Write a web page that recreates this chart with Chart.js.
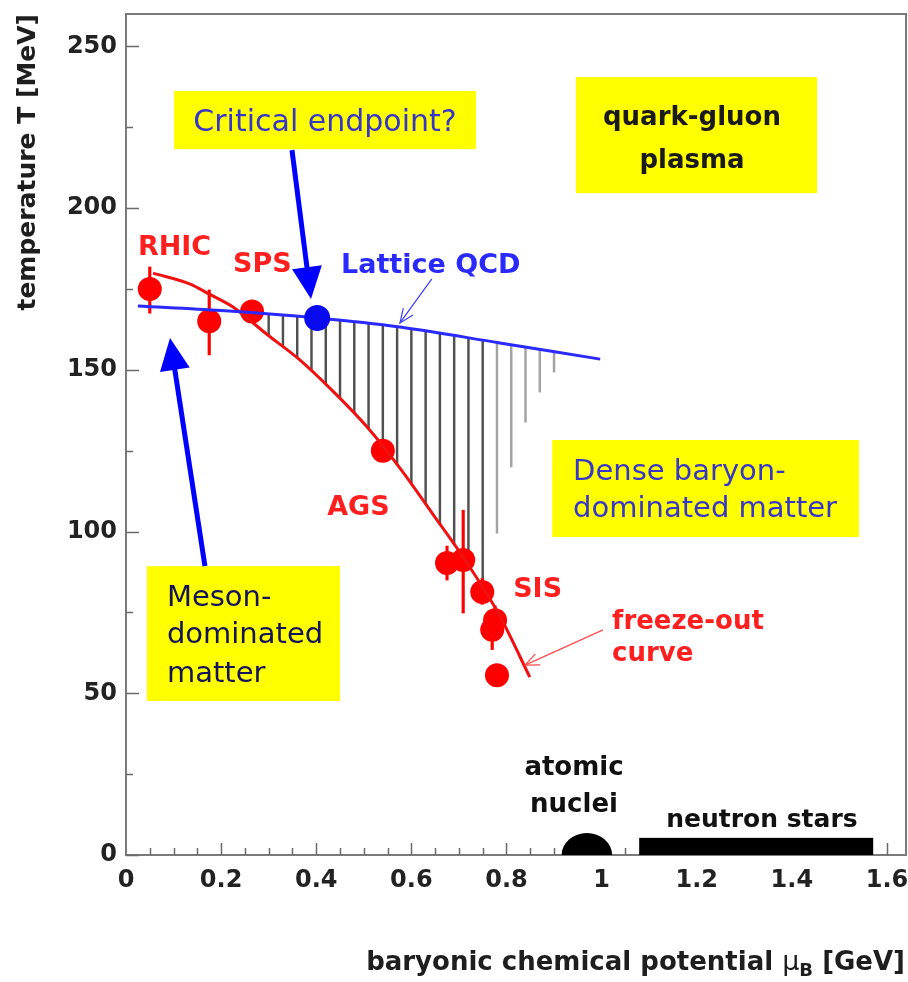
<!DOCTYPE html>
<html>
<head>
<meta charset="utf-8">
<script src="https://cdn.jsdelivr.net/npm/chart.js@4.4.1/dist/chart.umd.min.js"></script>
<style>
  html, body { margin: 0; padding: 0; background: #ffffff; }
  #wrap { width: 908px; height: 982px; }
</style>
</head>
<body>
<div id="wrap"><canvas id="phase" width="908" height="982"></canvas></div>
<script>
// ---- data: baryonic chemical potential mu_B [GeV], temperature T [MeV] ----

// chemical freeze-out points (RHIC, SPS, AGS, SIS) and their vertical error ranges
const POINT_MU   = [0.050, 0.175, 0.265, 0.540, 0.675, 0.709, 0.749, 0.776, 0.770, 0.780];
const POINT_T    = [175.0, 165.0, 168.0, 125.0, 90.3, 91.2, 81.3, 72.6, 69.6, 55.6];
const POINT_T_LO = [167.5, 154.6, null, null, 85.0, 74.8, 77.5, 68.5, 63.5, null];
const POINT_T_HI = [181.8, 174.7, null, null, 95.5, 106.6, 85.5, 77.0, 74.0, null];

// freeze-out curve
const FREEZE_MU = [0.057, 0.135, 0.175, 0.225, 0.296, 0.366, 0.435, 0.507, 0.576, 0.645, 0.717, 0.786, 0.849];
const FREEZE_T  = [179.9, 176.5, 173.4, 169.4, 161.0, 153.0, 143.4, 132.3, 119.6, 105.4, 90.3, 73.9, 55.0];

// lattice QCD transition line
const LATTICE_MU = [0.025, 0.200, 0.402, 0.576, 0.786, 0.997];
const LATTICE_T  = [169.7, 168.3, 166.0, 163.2, 158.3, 153.3];

// critical endpoint
const CRIT_MU = [0.402];
const CRIT_T  = [166.0];

// hatched band between the lattice line and the freeze-out region
const HATCH_MU     = [0.30, 0.33, 0.36, 0.39, 0.42, 0.45, 0.48, 0.51, 0.54, 0.57, 0.60,
                      0.63, 0.66, 0.69, 0.72, 0.75, 0.78, 0.81, 0.84, 0.87, 0.90];
const HATCH_TOP    = [167.2, 166.8, 166.5, 166.1, 165.7, 165.2, 164.7, 164.3, 163.8, 163.3, 162.6,
                      161.9, 161.2, 160.5, 159.8, 159.1, 158.4, 157.7, 157.0, 156.3, 155.6];
const HATCH_BOTTOM = [160.7, 157.2, 153.7, 149.7, 145.5, 141.1, 136.4, 131.7, 126.2, 120.7, 114.7,
                      108.6, 102.3, 96.0, 89.6, 80.0, 99.5, 120.0, 133.8, 143.1, 149.3];

// cold dense matter: atomic nuclei and neutron stars
const NUCLEI_MU     = 0.969;   // centre
const NUCLEI_HALF   = 0.053;   // half width in mu_B
const NUCLEI_T      = 6.8;     // height in T
const NEUTRON_MU    = [1.079, 1.571];
const NEUTRON_T     = 5.3;

// axis ticks
const X_TICKS = [0, 0.2, 0.4, 0.6, 0.8, 1.0, 1.2, 1.4, 1.6];
const Y_TICKS = [0, 50, 100, 150, 200, 250];

// ---- text annotations (anchored in data units) ----
const FONT = '"DejaVu Sans", "Verdana", sans-serif';
const RED = '#ff1f1f';
const BLUE = '#2a2aff';

const LABELS = [
  { text: 'RHIC', mu: 0.025, t: 185.5, align: 'left', color: RED, font: 'bold 27px ' + FONT },
  { text: 'SPS', mu: 0.225, t: 180.2, align: 'left', color: RED, font: 'bold 27px ' + FONT },
  { text: 'AGS', mu: 0.423, t: 105.1, align: 'left', color: RED, font: 'bold 27px ' + FONT },
  { text: 'SIS', mu: 0.814, t: 79.8, align: 'left', color: RED, font: 'bold 27px ' + FONT },
  { text: 'freeze-out', mu: 1.022, t: 69.9, align: 'left', color: RED, font: 'bold 26px ' + FONT },
  { text: 'curve', mu: 1.022, t: 60.0, align: 'left', color: RED, font: 'bold 26px ' + FONT },
  { text: 'Lattice QCD', mu: 0.452, t: 179.9, align: 'left', color: BLUE, font: 'bold 27px ' + FONT },
  { text: 'atomic', mu: 0.942, t: 24.7, align: 'center', color: '#111111', font: 'bold 26px ' + FONT },
  { text: 'nuclei', mu: 0.942, t: 13.3, align: 'center', color: '#111111', font: 'bold 26px ' + FONT },
  { text: 'neutron stars', mu: 1.337, t: 8.7, align: 'center', color: '#111111', font: 'bold 25px ' + FONT }
];

const BOXES = [
  { mu0: 0.101, mu1: 0.736, t0: 218.2, t1: 236.2, align: 'center', mu: 0.4185,
    lines: [['Critical endpoint?', 223.8]], color: '#3636c8', font: '30px ' + FONT },
  { mu0: 0.946, mu1: 1.453, t0: 204.6, t1: 240.5, align: 'center', mu: 1.190,
    lines: [['quark-gluon', 225.7], ['plasma', 212.4]], color: '#1a1a1a', font: 'bold 26px ' + FONT },
  { mu0: 0.896, mu1: 1.541, t0: 98.3, t1: 128.3, align: 'left', mu: 0.940,
    lines: [['Dense baryon-', 115.9], ['dominated matter', 104.5]], color: '#3636c8', font: '29px ' + FONT },
  { mu0: 0.044, mu1: 0.450, t0: 47.6, t1: 89.3, align: 'left', mu: 0.086,
    lines: [['Meson-', 77.0], ['dominated', 65.5], ['matter', 53.5]], color: '#14145a', font: '29px ' + FONT }
];

const ARROWS = [
  { from: [0.349, 217.9], to: [0.389, 171.9], color: '#0000ff', width: 5, head: 32, headW: 30, filled: true },
  { from: [0.166, 89.3], to: [0.0925, 159.8], color: '#0000ff', width: 5, head: 32, headW: 30, filled: true },
  { from: [0.643, 178.1], to: [0.576, 164.5], color: '#3a3aff', width: 1.2, head: 14, headW: 12, filled: false },
  { from: [1.003, 69.6], to: [0.839, 58.7], color: '#ff4a4a', width: 1.2, head: 14, headW: 12, filled: false }
];

// ---- datasets built from the arrays ----
const zip = (xs, ys) => xs.map((x, i) => ({ x: x, y: ys[i] }));

const hatchData = HATCH_MU.map((m, i) => ({ x: m, y: [HATCH_BOTTOM[i], HATCH_TOP[i]] }));
const errorData = POINT_MU
  .map((m, i) => (POINT_T_LO[i] === null ? null : { x: m, y: [POINT_T_LO[i], POINT_T_HI[i]] }))
  .filter(d => d !== null);

// ---- plugin: frame, inward ticks, boxes, labels, arrows, cold matter, x title ----
const decorations = {
  id: 'decorations',
  afterDatasetsDraw(chart) {
    const { ctx, chartArea: a, scales: { x, y } } = chart;
    const X = v => x.getPixelForValue(v);
    const Y = v => y.getPixelForValue(v);
    ctx.save();

    // frame
    ctx.strokeStyle = '#7a7a7a';
    ctx.lineWidth = 2;
    ctx.strokeRect(a.left, a.top, a.right - a.left, a.bottom - a.top);

    // inward tick marks
    ctx.lineWidth = 1.5;
    ctx.strokeStyle = '#6a6a6a';
    ctx.beginPath();
    for (let v = 0; v <= 255; v += 25) {
      const len = (v % 50 === 0) ? 13 : 7;
      const py = Math.round(Y(v)) + 0.5;
      ctx.moveTo(a.left, py); ctx.lineTo(a.left + len, py);
    }
    for (let k = 1; k <= 32; k++) {
      const v = k * 0.05;
      const len = (k % 4 === 0) ? 12 : 7;
      const px = Math.round(X(v)) + 0.5;
      ctx.moveTo(px, a.bottom); ctx.lineTo(px, a.bottom - len);
    }
    ctx.stroke();

    // cold nuclear matter at T = 0 (drawn over the tick marks)
    ctx.fillStyle = '#000000';
    ctx.beginPath();
    const rx = X(NUCLEI_MU + NUCLEI_HALF) - X(NUCLEI_MU);
    const ry = Y(0) - Y(NUCLEI_T);
    ctx.ellipse(X(NUCLEI_MU), Y(0), rx, ry, 0, Math.PI, 2 * Math.PI);
    ctx.closePath();
    ctx.fill();
    ctx.fillRect(X(NEUTRON_MU[0]), Y(NEUTRON_T), X(NEUTRON_MU[1]) - X(NEUTRON_MU[0]), Y(0) - Y(NEUTRON_T));

    // yellow boxes with text
    BOXES.forEach(b => {
      ctx.fillStyle = '#ffff00';
      ctx.fillRect(X(b.mu0), Y(b.t1), X(b.mu1) - X(b.mu0), Y(b.t0) - Y(b.t1));
      ctx.fillStyle = b.color;
      ctx.font = b.font;
      ctx.textAlign = b.align;
      ctx.textBaseline = 'alphabetic';
      b.lines.forEach(([txt, t]) => ctx.fillText(txt, X(b.mu), Y(t)));
    });

    // text labels
    LABELS.forEach(l => {
      ctx.fillStyle = l.color;
      ctx.font = l.font;
      ctx.textAlign = l.align;
      ctx.textBaseline = 'alphabetic';
      ctx.fillText(l.text, X(l.mu), Y(l.t));
    });

    // arrows
    ARROWS.forEach(ar => {
      const x0 = X(ar.from[0]), y0 = Y(ar.from[1]);
      const x1 = X(ar.to[0]), y1 = Y(ar.to[1]);
      const ang = Math.atan2(y1 - y0, x1 - x0);
      const ux = Math.cos(ang), uy = Math.sin(ang);
      const bx = x1 - ux * ar.head, by = y1 - uy * ar.head;
      const nx = -uy * ar.headW / 2, ny = ux * ar.headW / 2;
      ctx.strokeStyle = ar.color;
      ctx.fillStyle = ar.color;
      ctx.lineWidth = ar.width;
      ctx.lineCap = 'butt';
      ctx.beginPath();
      ctx.moveTo(x0, y0);
      ctx.lineTo(ar.filled ? bx + ux * 2 : x1, ar.filled ? by + uy * 2 : y1);
      ctx.stroke();
      ctx.beginPath();
      if (ar.filled) {
        ctx.moveTo(x1, y1);
        ctx.lineTo(bx + nx, by + ny);
        ctx.lineTo(bx - nx, by - ny);
        ctx.closePath();
        ctx.fill();
      } else {
        ctx.moveTo(bx + nx, by + ny);
        ctx.lineTo(x1, y1);
        ctx.lineTo(bx - nx, by - ny);
        ctx.stroke();
      }
    });

    // x-axis title with subscript
    const base = 970;
    const right = a.right - 1;
    ctx.fillStyle = '#1e1e1e';
    ctx.textBaseline = 'alphabetic';
    ctx.textAlign = 'left';
    const mainFont = 'bold 26px ' + FONT;
    const subFont = 'bold 18px ' + FONT;
    const muFont = '27px ' + FONT;
    const p1 = 'baryonic chemical potential ';
    const p2 = '\u03bc';
    const p3 = 'B';
    const p4 = ' [GeV]';
    ctx.font = mainFont; const w1 = ctx.measureText(p1).width; const w4 = ctx.measureText(p4).width;
    ctx.font = muFont; const w2 = ctx.measureText(p2).width;
    ctx.font = subFont; const w3 = ctx.measureText(p3).width;
    let cx = right - (w1 + w2 + w3 + w4);
    ctx.font = mainFont; ctx.fillText(p1, cx, base); cx += w1;
    ctx.font = muFont; ctx.fillText(p2, cx, base); cx += w2;
    ctx.font = subFont; ctx.fillText(p3, cx, base + 6); cx += w3;
    ctx.font = mainFont; ctx.fillText(p4, cx, base);

    ctx.restore();
  }
};

Chart.defaults.font.family = FONT;

new Chart(document.getElementById('phase'), {
  type: 'scatter',
  data: {
    datasets: [
      {
        type: 'scatter', label: 'critical endpoint', data: zip(CRIT_MU, CRIT_T), order: 1,
        pointRadius: 13, pointBackgroundColor: '#0a0aee', pointBorderWidth: 0, showLine: false
      },
      {
        type: 'line', label: 'Lattice QCD', data: zip(LATTICE_MU, LATTICE_T), order: 2,
        borderColor: '#2a2aff', borderWidth: 3, pointRadius: 0, tension: 0.35, fill: false
      },
      {
        type: 'line', label: 'freeze-out curve', data: zip(FREEZE_MU, FREEZE_T), order: 3,
        borderColor: '#f01010', borderWidth: 3, pointRadius: 0, cubicInterpolationMode: 'monotone', fill: false
      },
      {
        type: 'scatter', label: 'freeze-out points', data: zip(POINT_MU, POINT_T), order: 4,
        pointRadius: 12, pointBackgroundColor: '#ff0000', pointBorderWidth: 0, showLine: false
      },
      {
        type: 'bar', label: 'errors', data: errorData, order: 5,
        backgroundColor: '#ff0000', barThickness: 2.5, grouped: false, borderWidth: 0
      },
      {
        type: 'bar', label: 'hatch', data: hatchData, order: 6,
        backgroundColor: ctx => (ctx.raw && ctx.raw.x > 0.76 ? '#a3a3a3' : '#505050'),
        barThickness: 1.8, grouped: false, borderWidth: 0
      }
    ]
  },
  options: {
    responsive: false,
    animation: false,
    events: [],
    layout: { autoPadding: false, padding: { top: 14, right: 2, bottom: 0, left: 0 } },
    plugins: { legend: { display: false }, tooltip: { enabled: false } },
    scales: {
      x: {
        type: 'linear', position: 'bottom', min: 0, max: 1.64, offset: false,
        afterFit: s => { s.height = 127; s.paddingLeft = 0; s.paddingRight = 0; },
        afterBuildTicks: s => { s.ticks = X_TICKS.map(v => ({ value: v })); },
        grid: { display: false, drawTicks: false, offset: false },
        border: { display: false },
        ticks: {
          padding: 11, color: '#222222', maxRotation: 0, includeBounds: false,
          font: { family: FONT, size: 24, weight: 'bold' },
          callback: v => String(Number(v.toFixed(1)))
        }
      },
      y: {
        type: 'linear', position: 'left', min: 0, max: 260,
        afterFit: s => { s.width = 126; s.paddingTop = 0; s.paddingBottom = 0; },
        afterBuildTicks: s => { s.ticks = Y_TICKS.map(v => ({ value: v })); },
        grid: { display: false, drawTicks: false },
        border: { display: false },
        ticks: {
          padding: 9, color: '#222222', includeBounds: false,
          font: { family: FONT, size: 24, weight: 'bold' }
        },
        title: {
          display: true, text: 'temperature T [MeV]', align: 'end', color: '#1e1e1e',
          font: { family: FONT, size: 25, weight: 'bold' }, padding: { top: 13 }
        }
      }
    }
  },
  plugins: [decorations]
});
</script>
</body>
</html>
